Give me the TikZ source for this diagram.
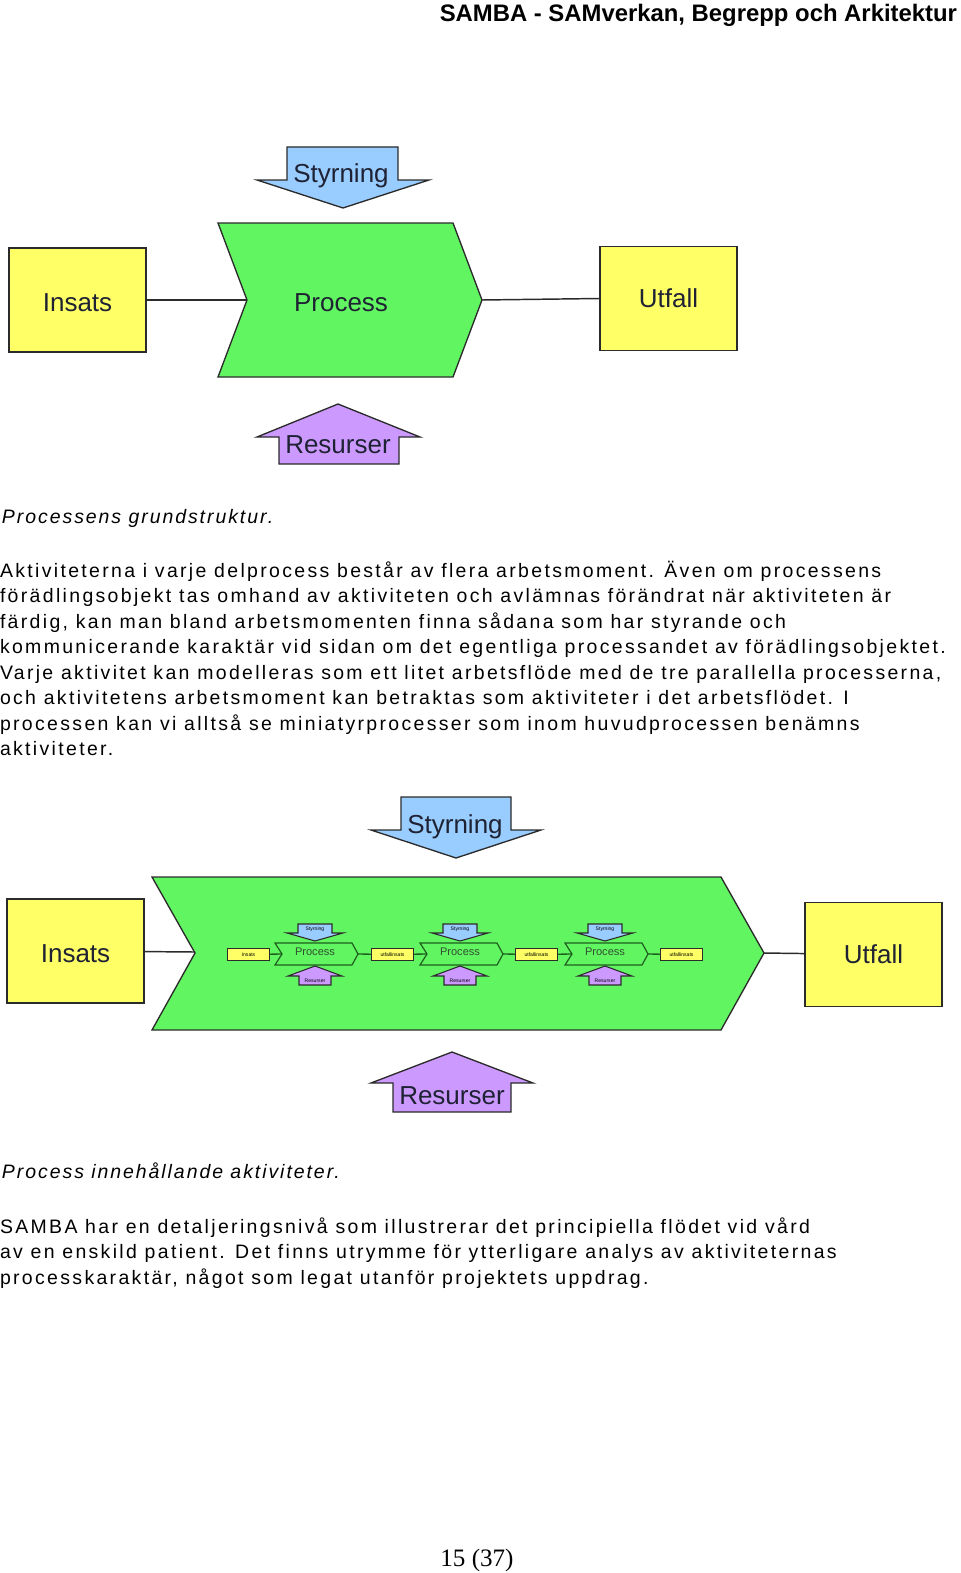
\documentclass[tikz,border=0pt]{standalone}
\usepackage{fontspec}
\setmainfont{Liberation Sans}
\newfontfamily\bodyfont{Liberation Sans}[LetterSpace=12]
\newfontfamily\captfont{Liberation Sans}[LetterSpace=10]
\newfontfamily\pagefont{Liberation Serif}
\usetikzlibrary{positioning}
\definecolor{BoxYellow}{HTML}{FFFF66}
\definecolor{ProcGreen}{HTML}{62F562}
\definecolor{StyrBlue}{HTML}{99CCFF}
\definecolor{ResLilac}{HTML}{CC99FF}
\definecolor{Edge}{HTML}{2B2B2B}
\definecolor{LabelInk}{HTML}{1E2233}
\definecolor{MiniLine}{HTML}{1E5E1E}
\definecolor{MiniInk}{HTML}{2F4F2F}

\begin{document}
\begin{tikzpicture}[
  x=0.75pt,y=-0.75pt,
  every node/.style={inner sep=0pt,outer sep=0pt},
  bigfont/.style={font=\fontsize{19.5}{20}\selectfont,text=LabelInk},
  tinyfont/.style={font=\fontsize{3.8}{4}\selectfont,text=black},
  yellowbox/.style={draw=Edge,line width=1.1pt,fill=BoxYellow,minimum width=103pt,minimum height=78pt,bigfont},
  minibox/.style={draw=Edge,line width=0.9pt,fill=BoxYellow,minimum width=32pt,minimum height=9.5pt,tinyfont},
  procshape/.style={draw=Edge,line width=1pt,fill=ProcGreen},
  miniproc/.style={draw=MiniLine,line width=0.9pt,fill=ProcGreen},
  styrshape/.style={draw=Edge,line width=1pt,fill=StyrBlue},
  resshape/.style={draw=Edge,line width=1pt,fill=ResLilac},
  link/.style={draw=Edge,line width=1.1pt},
  minilink/.style={draw=MiniLine,line width=1pt},
  bodyline/.style={anchor=base west,font=\bodyfont\fontsize{14.6}{19}\selectfont},
  captionline/.style={anchor=base west,font=\captfont\itshape\fontsize{14.6}{19}\selectfont}
]
\useasboundingbox (0,0) rectangle (960,1573);
\node[anchor=base east,font=\bfseries\fontsize{17.9}{18}\selectfont] (header) at (957,22) {SAMBA - SAMverkan, Begrepp och Arkitektur};

% grundstruktur
\draw[procshape] (218,223) -- (453,223) -- (482,300) -- (453,377) -- (218,377) -- (247,300) -- cycle;
\coordinate (proc1in) at (247,300);
\coordinate (proc1out) at (482,300);
\node[bigfont] (proc1) at (341,303) {Process};
\draw[styrshape] (287,147) -- (398,147) -- (398,180) -- (429,180) -- (343,208) -- (257,180) -- (287,180) -- cycle;
\node[bigfont] (styr1) at (341,176) {Styrning};
\draw[resshape] (338,404) -- (420,437) -- (399,437) -- (399,464) -- (279,464) -- (279,437) -- (257,437) -- cycle;
\node[bigfont] (res1) at (338,445) {Resurser};
\node[yellowbox,text height=17pt] (insats1) at (77.5,300) {Insats};
\node[yellowbox] (utfall1) at (668.5,298.5) {Utfall};
\draw[link] (insats1) -- (proc1in);
\draw[link] (proc1out) -- (utfall1.west);

\node[captionline] (cap1) at (2,523) {Processens grundstruktur.};
\node[bodyline] (txt1) at (0,577) {Aktiviteterna i varje delprocess består av flera arbetsmoment. Även om processens};
\node[bodyline] (txt2) at (0,602.5) {förädlingsobjekt tas omhand av aktiviteten och avlämnas förändrat när aktiviteten är};
\node[bodyline] (txt3) at (0,628) {färdig, kan man bland arbetsmomenten finna sådana som har styrande och};
\node[bodyline] (txt4) at (0,653.5) {kommunicerande karaktär vid sidan om det egentliga processandet av förädlingsobjektet.};
\node[bodyline] (txt5) at (0,679) {Varje aktivitet kan modelleras som ett litet arbetsflöde med de tre parallella processerna,};
\node[bodyline] (txt6) at (0,704.5) {och aktivitetens arbetsmoment kan betraktas som aktiviteter i det arbetsflödet. I};
\node[bodyline] (txt7) at (0,730) {processen kan vi alltså se miniatyrprocesser som inom huvudprocessen benämns};
\node[bodyline] (txt8) at (0,755.5) {aktiviteter.};

% process med aktiviteter
\draw[procshape] (152,877) -- (721,877) -- (764,953) -- (721,1030) -- (152,1030) -- (195,953) -- cycle;
\coordinate (proc2in) at (195,952);
\coordinate (proc2out) at (764,953);
\draw[styrshape] (401,797) -- (511,797) -- (511,830) -- (541,830) -- (456,858) -- (371,830) -- (401,830) -- cycle;
\node[bigfont] (styr2) at (455,827) {Styrning};
\draw[resshape] (452,1052) -- (533,1083) -- (511,1083) -- (511,1112) -- (393,1112) -- (393,1083) -- (371,1083) -- cycle;
\node[bigfont] (res2) at (452,1096) {Resurser};
\node[yellowbox,text height=17pt] (insats2) at (75.5,951) {Insats};
\node[yellowbox] (utfall2) at (873.5,954.5) {Utfall};
\draw[link] (insats2) -- (proc2in);
\draw[link] (proc2out) -- (utfall2);

\node[minibox] (mu0) at (248.5,954.5) {Insats};
\foreach \i/\x/\u in {1/275/392.5,2/420/536.5,3/565/681.5}{
  \pgfmathtruncatemacro\p{\i-1}
  \draw[miniproc] (\x,943) -- ++(77,0) -- ++(6,11) -- ++(-6,11) -- ++(-77,0) -- ++(7,-11) -- cycle;
  \coordinate (mpin\i) at ({\x+7},954);
  \coordinate (mpout\i) at ({\x+83},954);
  \node[font=\fontsize{8.3}{9}\selectfont,text=MiniInk] (mpt\i) at ({\x+40},952) {Process};
  \draw[styrshape,line width=0.8pt] ({\x+23},924) -- ({\x+57},924) -- ({\x+57},933) -- ({\x+68},933) -- ({\x+40},941) -- ({\x+12},933) -- ({\x+23},933) -- cycle;
  \node[tinyfont] (ms\i) at ({\x+40},929) {Styrning};
  \draw[resshape,line width=0.8pt] ({\x+40},966) -- ({\x+67},976) -- ({\x+56},976) -- ({\x+56},985) -- ({\x+24},985) -- ({\x+24},976) -- ({\x+13},976) -- cycle;
  \node[tinyfont] (mr\i) at ({\x+40},980.5) {Resurser};
  \node[minibox] (mu\i) at (\u,954.5) {utfallinsats};
  \draw[minilink] (mu\p) -- (mpin\i);
  \draw[minilink] (mpout\i) -- (mu\i);
}

\node[captionline] (cap2) at (2,1178) {Process innehållande aktiviteter.};
\node[bodyline] (txt9) at (0,1233) {SAMBA har en detaljeringsnivå som illustrerar det principiella flödet vid vård};
\node[bodyline] (txt10) at (0,1258.5) {av en enskild patient. Det finns utrymme för ytterligare analys av aktiviteternas};
\node[bodyline] (txt11) at (0,1284) {processkaraktär, något som legat utanför projektets uppdrag.};

\node[anchor=base,font=\pagefont\fontsize{18.8}{19}\selectfont] (pageno) at (477,1566) {15 (37)};
\end{tikzpicture}
\end{document}
